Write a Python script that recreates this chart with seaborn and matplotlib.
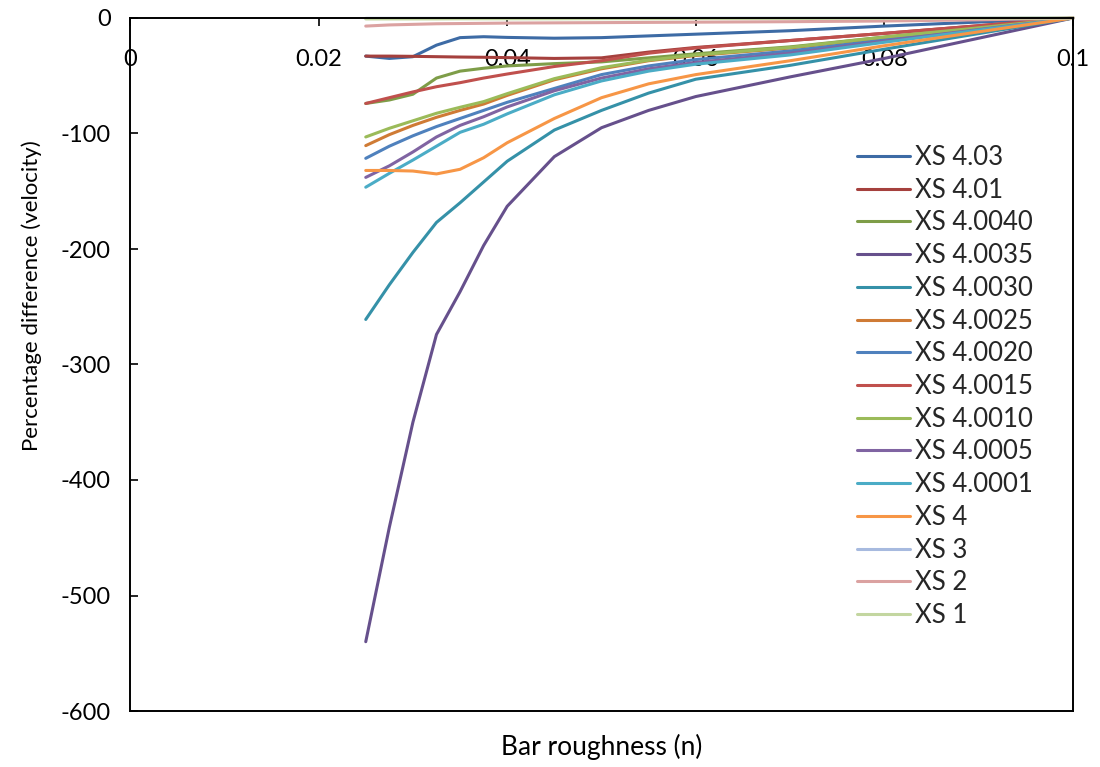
import numpy as np
import pandas as pd
import seaborn as sns
import matplotlib.pyplot as plt

# Rugosidade da barra (n) usada em cada simulação
n_barra = [0.025, 0.0275, 0.03, 0.0325, 0.035, 0.0375, 0.04, 0.045,
           0.05, 0.055, 0.06, 0.07, 0.08, 0.09, 0.1]

# Diferença percentual da velocidade em cada seção
xs_4_03 = [-33, -35, -33.5, -23.5, -17, -16.2, -16.8, -17.5, -17, -15.5, -14, -11, -7, -3.5, 0]
xs_4_01 = [-33, -33, -33.2, -33.5, -33.8, -34, -34.3, -35, -34.5, -29.5, -25.5, -19.5, -13.3, -6.7, 0]
xs_4_0040 = [-74, -71, -66, -52, -46, -43.5, -41.5, -39.5, -38, -34.5, -31, -25, -16.5, -8.5, 0]
xs_4_0035 = [-540, -441, -350, -274, -237, -197, -163, -120, -95, -80, -68, -51, -35, -17.5, 0]
xs_4_0030 = [-261, -231, -203, -177, -160, -142, -124, -97, -80, -65, -53, -41, -27, -13.5, 0]
xs_4_0025 = [-110.5, -101, -93, -86, -80, -74.5, -67, -53.5, -44, -37, -32.5, -26, -17, -8.7, 0]
xs_4_0020 = [-121.5, -111, -102, -94, -87, -80, -73, -61, -49, -41.5, -36, -28.5, -19, -9.5, 0]
xs_4_0015 = [-74, -69, -64, -59.5, -56, -52, -48.5, -42, -37, -30.5, -26, -19.5, -13.3, -6.7, 0]
xs_4_0010 = [-103, -95.5, -89, -82.5, -77.3, -72.4, -65.5, -52.5, -43, -36.5, -32, -25.5, -16.5, -8.5, 0]
xs_4_0005 = [-138, -128, -116, -103, -93, -85.5, -77, -63, -52, -44, -38.5, -30.5, -20, -10, 0]
xs_4_0001 = [-146.5, -134.5, -123, -111, -99, -92, -83, -66.5, -54.5, -46, -40, -32, -21, -10.5, 0]
xs_4 = [-132, -132, -132.5, -135, -131, -121, -108, -87, -69, -57, -49, -37, -24, -12, 0]
xs_3 = [-0.3, -0.3, -0.3, -0.3, -0.3, -0.3, -0.3, -0.3, -0.3, -0.2, -0.2, -0.2, -0.1, -0.1, 0]
xs_2 = [-7, -6, -5.5, -5, -4.8, -4.6, -4.4, -4.2, -4, -3.8, -3.6, -3.2, -2.6, -1.6, 0]
xs_1 = [-0.8, -0.8, -0.8, -0.8, -0.7, -0.7, -0.7, -0.7, -0.6, -0.6, -0.5, -0.4, -0.3, -0.2, 0]

secoes = ['XS 4.03', 'XS 4.01', 'XS 4.0040', 'XS 4.0035', 'XS 4.0030', 'XS 4.0025',
          'XS 4.0020', 'XS 4.0015', 'XS 4.0010', 'XS 4.0005', 'XS 4.0001', 'XS 4',
          'XS 3', 'XS 2', 'XS 1']
valores = [xs_4_03, xs_4_01, xs_4_0040, xs_4_0035, xs_4_0030, xs_4_0025,
           xs_4_0020, xs_4_0015, xs_4_0010, xs_4_0005, xs_4_0001, xs_4,
           xs_3, xs_2, xs_1]

cores = ['#3D6BA5', '#A5403D', '#7E9D48', '#66508C', '#3591A8', '#CF7B35',
         '#4F81BD', '#C0504D', '#9BBB59', '#8064A2', '#4BACC6', '#F79646',
         '#A7BADF', '#DBA2A1', '#C3D6A0']

# Monta a tabela longa para o seaborn
df = pd.DataFrame({
    'n': n_barra * len(secoes),
    'secao': [s for s in secoes for _ in n_barra],
    'dif': [v for serie in valores for v in serie],
})

sns.set_style('white')
plt.rcParams['font.family'] = ['Lato', 'DejaVu Sans']
plt.rcParams['axes.unicode_minus'] = False

fig = plt.figure(figsize=(11, 7.67), dpi=100)
ax = fig.add_axes([130 / 1100, 1 - 711 / 767, 943 / 1100, 693 / 767])

sns.lineplot(data=df, x='n', y='dif', hue='secao', hue_order=secoes, palette=cores,
             estimator=None, errorbar=None, linewidth=2.2, ax=ax)
for linha in ax.lines:
    linha.set_clip_on(False)

ax.set_xlim(0, 0.1)
ax.set_ylim(-600, 0)
ax.set_xticks([0, 0.02, 0.04, 0.06, 0.08, 0.1])
ax.set_xticklabels(['0', '0.02', '0.04', '0.06', '0.08', '0.1'])
ax.set_yticks(range(-600, 1, 100))

# Eixo x no zero (topo), caixa fechada embaixo e à direita
ax.spines['bottom'].set_position(('data', 0))
ax.spines['top'].set_position(('data', -600))
for lado in ['left', 'right', 'top', 'bottom']:
    ax.spines[lado].set_color('black')
    ax.spines[lado].set_linewidth(1.4)
    ax.spines[lado].set_visible(True)

ax.tick_params(axis='x', direction='out', length=6, width=1.2, pad=16,
               labelsize=17, colors='black', bottom=True, top=False)
ax.tick_params(axis='y', direction='in', length=6, width=1.2, pad=14,
               labelsize=17, colors='black', left=True, right=False)

ax.set_xlabel('Bar roughness (n)', fontsize=19, color='black')
ax.set_ylabel('Percentage difference (velocity)', fontsize=16, color='black')
ax.xaxis.set_label_coords(0.5, -0.033)
ax.yaxis.set_label_coords(-0.093, 0.60)

leg = ax.get_legend()
handles = leg.legend_handles
labels = [t.get_text() for t in leg.get_texts()]
leg.remove()
for h in handles:
    h.set_linewidth(2.2)
ax.legend(handles, labels, loc='upper left', bbox_to_anchor=(857 / 1100, 1 - 145 / 767),
          bbox_transform=fig.transFigure, frameon=False, fontsize=18.5,
          handlelength=2.05, handletextpad=0.2, labelspacing=0.30,
          borderpad=0, borderaxespad=0)

plt.savefig('out.png', dpi=100)
